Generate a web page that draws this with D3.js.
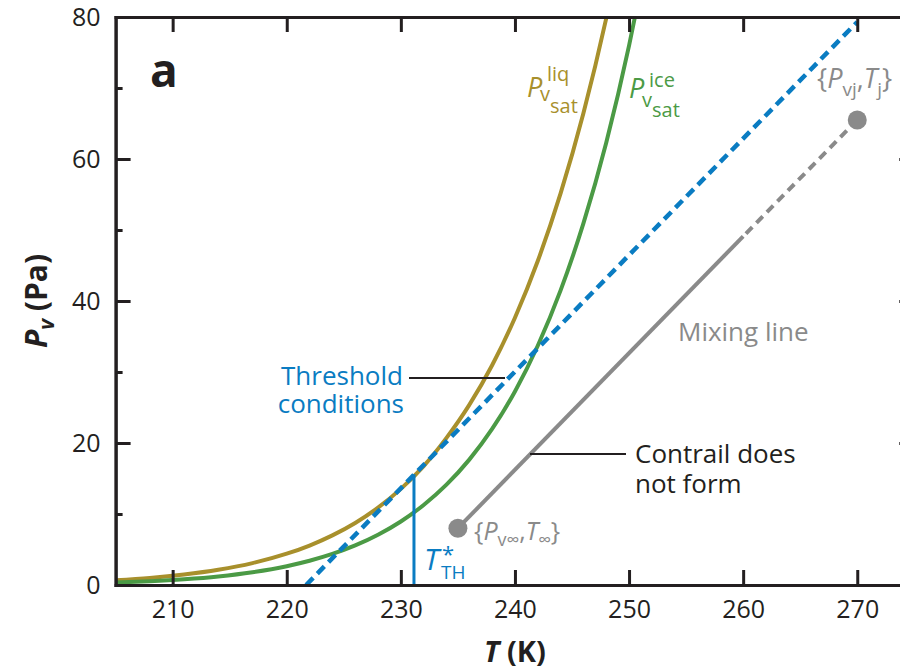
<!DOCTYPE html>
<html>
<head>
<meta charset="utf-8">
<script src="https://cdn.jsdelivr.net/npm/d3@7"></script>
<style>
  body { margin: 0; background: #fff; }
  svg { display: block; font-family: 'Open Sans', sans-serif; }
</style>
</head>
<body>
<div class="graph_wrapper"></div>
<script>
// saturation curves (T in K, P in Pa)
var liqT = [205, 208, 211, 214, 217, 220, 222, 224, 226, 228, 230, 232, 234, 236, 238, 240, 242, 244, 246, 248, 249];
var liqP = [0.67, 0.99, 1.47, 2.14, 3.08, 4.41, 5.56, 6.99, 8.74, 10.9, 13.54, 16.75, 20.72, 25.37, 30.95, 37.64, 45.63, 55.15, 66.43, 79.8, 87.36];
var iceT = [205, 208, 211, 214, 217, 220, 222, 224, 226, 228, 230, 232, 234, 236, 238, 240, 242, 244, 246, 248, 250, 251];
var iceP = [0.34, 0.53, 0.81, 1.21, 1.8, 2.65, 3.41, 4.37, 5.57, 7.08, 8.95, 11.27, 14.13, 17.66, 21.98, 27.26, 33.69, 41.49, 50.93, 62.3, 75.97, 83.79];

// threshold (dashed blue) and mixing line (grey)
var thresholdT = [221.7, 270];
var thresholdP = [0, 79.3];
var tStar = 231.15;
var tStarP = [0, 15.6];
var mixT = [235, 260, 270];
var mixP = [8.0, 49.1, 65.5];

var xTicks = [210, 220, 230, 240, 250, 260, 270];
var yTicks = [0, 20, 40, 60, 80];
var yMinorTicks = [10, 30, 50, 70];

var width = 900;
var height = 670;

var gold = '#a8902c';
var green = '#4b9a45';
var blue = '#0a7cc2';
var grey = '#8a8a8a';
var ink = '#231f20';

var x = d3.scaleLinear().domain([205, 275]).range([115.6, 914.3]);
var y = d3.scaleLinear().domain([0, 80]).range([585, 17]);

var svg = d3.select('.graph_wrapper').append('svg').attr('width', width).attr('height', height);

svg.append('clipPath').attr('id', 'plot').append('rect')
  .attr('x', x(205)).attr('y', y(80)).attr('width', x(275) - x(205)).attr('height', y(0) - y(80));

var plot = svg.append('g').attr('clip-path', 'url(#plot)');

var line = d3.line().x(function (d) { return x(d[0]); }).y(function (d) { return y(d[1]); });
var curve = d3.line().curve(d3.curveMonotoneX).x(function (d) { return x(d[0]); }).y(function (d) { return y(d[1]); });

plot.append('path').datum(d3.zip(liqT, liqP)).attr('d', curve)
  .attr('fill', 'none').attr('stroke', gold).attr('stroke-width', 4);
plot.append('path').datum(d3.zip(iceT, iceP)).attr('d', curve)
  .attr('fill', 'none').attr('stroke', green).attr('stroke-width', 4);

// T*_TH vertical
plot.append('path').datum([[tStar, tStarP[0]], [tStar, tStarP[1]]]).attr('d', line)
  .attr('stroke', blue).attr('stroke-width', 3);

plot.append('path').datum(d3.zip(thresholdT, thresholdP)).attr('d', line)
  .attr('fill', 'none').attr('stroke', blue).attr('stroke-width', 4.5).attr('stroke-dasharray', '10,6');

// mixing line: solid then dashed
plot.append('path').datum([[mixT[0], mixP[0]], [mixT[1], mixP[1]]]).attr('d', line)
  .attr('stroke', grey).attr('stroke-width', 4);
plot.append('path').datum([[mixT[1], mixP[1]], [mixT[2], mixP[2]]]).attr('d', line)
  .attr('stroke', grey).attr('stroke-width', 4).attr('stroke-dasharray', '9,6').attr('stroke-dashoffset', -4);

svg.selectAll('.endpoint').data([0, 2]).enter().append('circle')
  .attr('class', 'endpoint')
  .attr('cx', function (i) { return x(mixT[i]); })
  .attr('cy', function (i) { return y(mixP[i]); })
  .attr('r', 9.5).attr('fill', grey);

// axes, ticks inward
function styleAxis(g) {
  g.select('.domain').attr('stroke', ink).attr('stroke-width', 3).attr('stroke-linecap', 'square');
  g.selectAll('.tick line').attr('stroke', ink).attr('stroke-width', 3);
  g.selectAll('.tick text').attr('fill', ink).attr('font-size', 25).attr('font-family', 'Open Sans');
}

svg.append('g').attr('transform', 'translate(0,' + y(0) + ')')
  .call(d3.axisBottom(x).tickValues(xTicks).tickSizeInner(-15).tickSizeOuter(0).tickPadding(15).tickFormat(d3.format('d')))
  .call(styleAxis);
svg.append('g').attr('transform', 'translate(0,' + y(80) + ')')
  .call(d3.axisTop(x).tickValues(xTicks).tickSizeInner(-15).tickSizeOuter(0).tickFormat(''))
  .call(styleAxis);
svg.append('g').attr('transform', 'translate(' + x(205) + ',0)')
  .call(d3.axisLeft(y).tickValues(yTicks).tickSizeInner(-15).tickSizeOuter(0).tickPadding(15))
  .call(styleAxis);
svg.append('g').attr('transform', 'translate(' + x(205) + ',0)')
  .call(d3.axisLeft(y).tickValues(yMinorTicks).tickSizeInner(-7).tickSizeOuter(0).tickFormat(''))
  .call(styleAxis);
svg.append('g').attr('transform', 'translate(' + x(275) + ',0)')
  .call(d3.axisRight(y).tickValues(yTicks).tickSizeInner(-15).tickSizeOuter(0).tickFormat(''))
  .call(styleAxis);
svg.append('g').attr('transform', 'translate(' + x(275) + ',0)')
  .call(d3.axisRight(y).tickValues(yMinorTicks).tickSizeInner(-7).tickSizeOuter(0).tickFormat(''))
  .call(styleAxis);

// axis titles
var xt = svg.append('text').attr('x', x(240)).attr('y', 662).attr('text-anchor', 'middle')
  .attr('font-size', 29).attr('font-weight', 'bold').attr('fill', ink);
xt.append('tspan').attr('font-style', 'italic').text('T');
xt.append('tspan').text(' (K)');

var yt = svg.append('text').attr('transform', 'translate(47,' + y(40) + ') rotate(-90)').attr('text-anchor', 'middle')
  .attr('font-size', 30).attr('font-weight', 'bold').attr('fill', ink);
yt.append('tspan').attr('font-style', 'italic').text('P');
yt.append('tspan').attr('font-style', 'italic').attr('font-size', 21).attr('dy', 7).text('v');
yt.append('tspan').attr('dy', -7).text(' (Pa)');

svg.append('text').attr('x', 150).attr('y', 87).attr('font-size', 46).attr('font-weight', 'bold').attr('fill', ink).text('a');

// curve labels
function satLabel(px, py, sup, col, supDy, subDy, satDy) {
  var g = svg.append('g').attr('fill', col);
  g.append('text').attr('x', px).attr('y', py).attr('font-size', 27).attr('font-style', 'italic').text('P');
  g.append('text').attr('x', px + 20).attr('y', py + supDy).attr('font-size', 20).text(sup);
  g.append('text').attr('x', px + 13).attr('y', py + subDy).attr('font-size', 20).text('v');
  g.append('text').attr('x', px + 23).attr('y', py + satDy).attr('font-size', 20).text('sat');
}
satLabel(527, 97, 'liq', gold, -16, 4, 16);
satLabel(629, 98, 'ice', green, -11, 9, 19);

// {P_vj, T_j}
var lj = svg.append('text').attr('x', 817).attr('y', 88).attr('font-size', 27).attr('fill', grey);
lj.append('tspan').text('{');
lj.append('tspan').attr('font-style', 'italic').text('P');
lj.append('tspan').attr('font-size', 19).attr('dy', 8).text('vj');
lj.append('tspan').attr('dy', -8).text(',');
lj.append('tspan').attr('font-style', 'italic').text('T');
lj.append('tspan').attr('font-size', 19).attr('dy', 8).text('j');
lj.append('tspan').attr('dy', -8).text('}');

// {P_v∞, T_∞}
var li = svg.append('text').attr('x', 474).attr('y', 540).attr('font-size', 25).attr('fill', grey);
li.append('tspan').text('{');
li.append('tspan').attr('font-style', 'italic').text('P');
li.append('tspan').attr('font-size', 18).attr('dy', 6).text('v∞');
li.append('tspan').attr('dy', -6).text(',');
li.append('tspan').attr('font-style', 'italic').text('T');
li.append('tspan').attr('font-size', 18).attr('dy', 6).text('∞');
li.append('tspan').attr('dy', -6).text('}');

// T*_TH
var ts = svg.append('g').attr('fill', blue);
ts.append('text').attr('x', 424).attr('y', 570).attr('font-size', 30).attr('font-style', 'italic').text('T');
ts.append('text').attr('x', 442).attr('y', 562).attr('font-size', 22).text('*');
ts.append('text').attr('x', 441).attr('y', 579).attr('font-size', 19).text('TH');

// annotations with leaders
var th = svg.append('text').attr('text-anchor', 'end').attr('font-size', 26).attr('fill', blue);
th.append('tspan').attr('x', 403).attr('y', 385).text('Threshold');
th.append('tspan').attr('x', 404).attr('y', 413).text('conditions');
svg.append('line').attr('x1', 409).attr('x2', 505).attr('y1', 378).attr('y2', 378).attr('stroke', ink).attr('stroke-width', 2.2);

var ct = svg.append('text').attr('font-size', 26).attr('fill', ink);
ct.append('tspan').attr('x', 635).attr('y', 463).text('Contrail does');
ct.append('tspan').attr('x', 635).attr('y', 493).text('not form');
svg.append('line').attr('x1', 530).attr('x2', 626).attr('y1', 454).attr('y2', 454).attr('stroke', ink).attr('stroke-width', 2.2);

svg.append('text').attr('x', 678).attr('y', 341).attr('font-size', 26).attr('fill', grey).text('Mixing line');
</script>
</body>
</html>
